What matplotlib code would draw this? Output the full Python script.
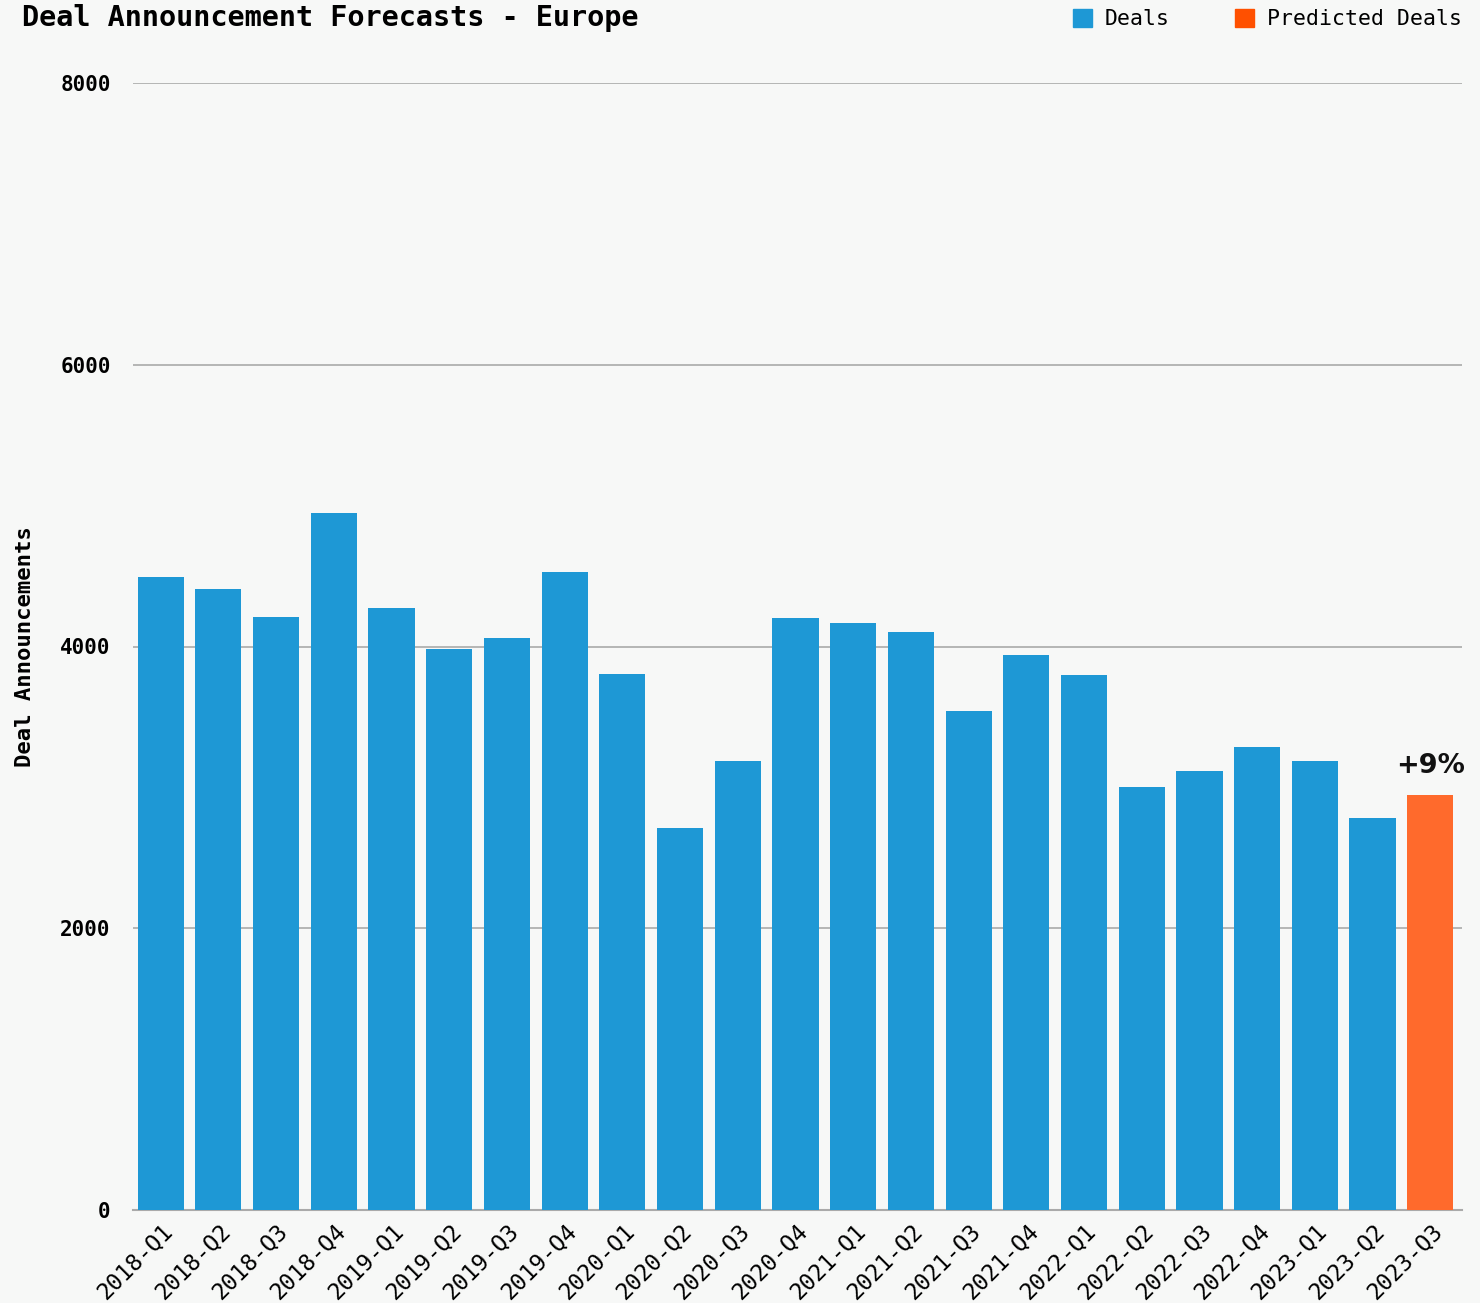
import matplotlib
matplotlib.use("Agg")
import matplotlib.pyplot as plt
from matplotlib.patches import Patch

quarters = ["2018-Q1", "2018-Q2", "2018-Q3", "2018-Q4",
            "2019-Q1", "2019-Q2", "2019-Q3", "2019-Q4",
            "2020-Q1", "2020-Q2", "2020-Q3", "2020-Q4",
            "2021-Q1", "2021-Q2", "2021-Q3", "2021-Q4",
            "2022-Q1", "2022-Q2", "2022-Q3", "2022-Q4",
            "2023-Q1", "2023-Q2"]
deals = [4493, 4408, 4209, 4948,
         4273, 3982, 4060, 4529,
         3805, 2712, 3187, 4202,
         4167, 4103, 3542, 3940,
         3798, 3003, 3116, 3287,
         3187, 2783]
predicted_quarter = "2023-Q3"
predicted_deals = 2946
change_label = "+9%"
y_ticks = [0, 2000, 4000, 6000, 8000]

BG = "#f7f8f7"
BLUE = "#1e98d5"
ORANGE = "#ff6a2c"
ORANGE_LEGEND = "#ff5000"
MONO = "DejaVu Sans Mono"

fig = plt.figure(figsize=(14.8, 13.03), dpi=100, facecolor=BG)
ax = fig.add_axes([133 / 1480, 1 - 1210 / 1303, (1462 - 133) / 1480, (1210 - 83) / 1303])
ax.set_facecolor(BG)

n = len(quarters)
ax.bar(range(n), deals, width=0.8, color=BLUE, zorder=3)
ax.bar([n], [predicted_deals], width=0.8, color=ORANGE, zorder=3)
ax.text(n, predicted_deals + 110, change_label, ha="center", va="bottom",
        fontsize=19.5, fontweight="bold", family="DejaVu Sans", color="#111111")

ax.set_xlim(-0.48, n + 0.55)
ax.set_ylim(0, 8000)
ax.set_yticks(y_ticks)
ax.set_yticklabels([str(v) for v in y_ticks], fontsize=15, fontweight="bold", family=MONO)
ax.set_xticks(range(n + 1))
ax.set_xticklabels(quarters + [predicted_quarter], rotation=45, ha="right",
                   rotation_mode="anchor", fontsize=16.5, family=MONO)
ax.tick_params(axis="both", length=0, pad=7)
ax.tick_params(axis="y", pad=16)

ax.grid(axis="y", color="#aaaaaa", linewidth=1.2, zorder=0)
for s in ["top", "right", "left"]:
    ax.spines[s].set_visible(False)
ax.spines["bottom"].set_color("#aaaaaa")
ax.spines["bottom"].set_linewidth(1.5)

ax.set_ylabel("Deal Announcements", fontsize=16, fontweight="bold", family=MONO, labelpad=18)

fig.text(22 / 1480, 1 - 18 / 1303, "Deal Announcement Forecasts - Europe",
         fontsize=20.5, fontweight="bold", family=MONO, va="center", ha="left")

handles = [Patch(color=BLUE, label="Deals"), Patch(color=ORANGE_LEGEND, label="Predicted Deals")]
leg = fig.legend(handles=handles, loc="center right", bbox_to_anchor=(1462 / 1480, 1 - 19 / 1303),
                 ncol=2, frameon=False, prop={"family": MONO, "size": 15.5},
                 handlelength=0.9, handleheight=0.9, handletextpad=0.6, columnspacing=3.0,
                 borderaxespad=0, borderpad=0)

fig.savefig("out.png", dpi=100, facecolor=BG)
